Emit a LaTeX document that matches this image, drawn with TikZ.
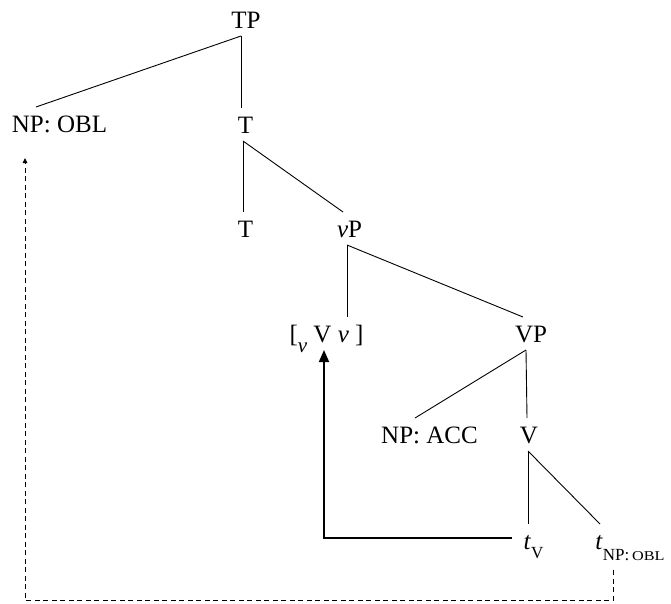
\documentclass[tikz,border=0pt]{standalone}
\usepackage{fontspec}
\setmainfont{Liberation Serif}
\usepackage{graphicx}
\usepackage{tikz}
\usetikzlibrary{arrows.meta}

\newcommand{\lowsub}[2][10pt]{\raisebox{-#1}{\fontsize{17}{19}\selectfont #2}}
\newcommand{\smallobl}{\scalebox{1.2}[1]{\fontsize{13.5}{15}\selectfont OBL}}

\tikzset{
  lbl/.style={anchor=base, inner sep=0pt, text height=17pt, text depth=0pt,
    outer ysep=8pt, font=\fontsize{25}{30}\selectfont},
  branch/.style={line width=0.9pt},
  headmove/.style={line width=1.8pt, -{Triangle[length=12pt,width=10pt]}},
  phrasemove/.style={line width=0.9pt, dash pattern=on 5pt off 3.5pt,
    -{Triangle[length=5pt,width=4.5pt]}}
}

\begin{document}
\begin{tikzpicture}[x=1pt,y=-1pt,every node/.style={lbl}]
      \useasboundingbox (0,0) rectangle (671,603);
      \path
      (246,28) node(tp) {TP}
      (59.5,132) node(npobl) {NP: OBL}
      (245.5,133) node(tbar) {T}
      (245.5,237) node(thead) {T}
      (349.5,237) node(smallvp) {\textit{v}P}
      (326.5,342) node(vcx) {[\lowsub{\fontsize{21}{23}\selectfont\textit{v}} V \textit{v} ]}
      (531,342) node(bigvp) {VP}
      (429.5,443) node(npacc) {NP: ACC}
      (529,443) node(vbar) {V}
      (533.5,549) node(tv) {\textit{t}\lowsub[9pt]{V}}
      (630,549) node(tnp) {\textit{t}\lowsub[11pt]{NP:\,\smallobl}}
      ;

      \draw[branch] ([xshift=-5pt]tp.south) -- ([xshift=-23.5pt]npobl.north);
      \draw[branch] ([xshift=-5pt]tp.south) -- ([xshift=-4.5pt]tbar.north);
      \draw[branch] ([xshift=-2.5pt]tbar.south) -- ([xshift=-2.5pt]thead.north);
      \draw[branch] ([xshift=-2.5pt]tbar.south) -- ([xshift=-6.5pt]smallvp.north);
      \draw[branch] ([xshift=-2.5pt]smallvp.south) -- ([xshift=20.5pt]vcx.north);
      \draw[branch] ([xshift=-2.5pt]smallvp.south) -- ([xshift=-8pt]bigvp.north);
      \draw[branch] ([xshift=-5pt]bigvp.south) -- ([xshift=-14.5pt]npacc.north);
      \draw[branch] ([xshift=-5pt]bigvp.south) -- ([xshift=-2pt]vbar.north);
      \draw[branch] ([xshift=-1pt]vbar.south) -- ([xshift=-5.5pt]tv.north);
      \draw[branch] ([xshift=-1pt]vbar.south) -- ([xshift=-30pt]tnp.north);

      \draw[headmove] ([xshift=-11pt,yshift=11pt]tv.base west) -| ([xshift=-2.5pt]vcx.south);
      \draw[phrasemove] ([xshift=-17pt,yshift=-13pt]tnp.south) -- ++(0,30)
        -| ([xshift=-34.5pt,yshift=-18pt]npobl.south);
    \end{tikzpicture}
\end{document}
